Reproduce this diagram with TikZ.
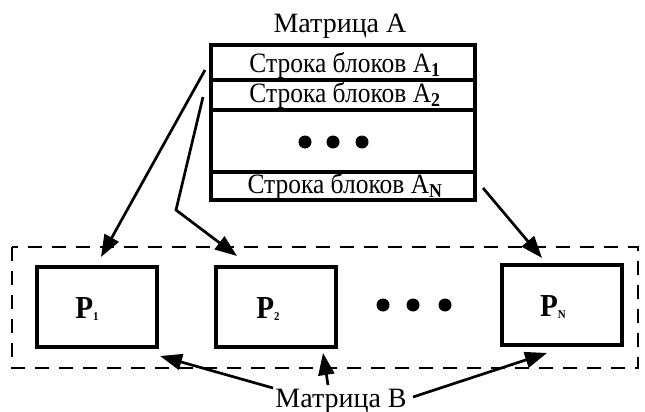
\documentclass[tikz,border=0pt]{standalone}
\usepackage{fontspec}
\setmainfont{Liberation Serif}
\usetikzlibrary{arrows.meta}
\newcommand{\narrowtxt}[1]{\scalebox{0.91}[1]{#1}}
\newcommand{\psub}[1]{\raisebox{-2pt}{\fontsize{12}{12}\selectfont\bfseries #1}}
\begin{document}
\begin{tikzpicture}[x=1pt,y=-1pt,
 rowbox/.style={draw,line width=3.3pt,minimum width=264pt,inner sep=0pt},
 rowtxt/.style={font=\fontsize{28}{30}\selectfont,inner sep=0pt,anchor=base},
 pbox/.style={draw,line width=3.3pt,minimum width=120pt,minimum height=80pt,inner sep=0pt},
 ptxt/.style={font=\fontsize{32}{34}\selectfont\bfseries,inner sep=0pt,anchor=base},
 lbl/.style={font=\fontsize{28}{30}\selectfont,inner sep=0pt,anchor=base},
 arr/.style={line width=2.7pt,-{Triangle[length=22pt,width=16pt]}},
 bigdot/.style={circle,fill,inner sep=0pt,minimum size=13pt},
 frame/.style={line width=2.5pt,dash pattern=on 14pt off 10pt}]
\useasboundingbox (0,0) rectangle (645,412);
% Matrix A
\node[lbl] (ma) at (340,33) {Матрица А};
\node[rowbox,minimum height=35pt] (r1) at (343,62.5) {};
\node[rowbox,minimum height=30pt] (r2) at (343,95) {};
\node[rowbox,minimum height=62pt] (rd) at (343,141) {};
\node[rowbox,minimum height=28pt] (rn) at (343,186) {};
\node[rowtxt] (t1txt) at (345,72) {\narrowtxt{Строка блоков А\textsubscript{\textbf{1}}}};
\node[rowtxt] (t2txt) at (345,102) {\narrowtxt{Строка блоков А\textsubscript{\textbf{2}}}};
\node[rowtxt] (tntxt) at (345,193) {\narrowtxt{Строка блоков А\textsubscript{\textbf{N}}}};
\node[bigdot] (ad1) at (305,142) {};
\node[bigdot] (ad2) at (333,142) {};
\node[bigdot] (ad3) at (362,142) {};
% Matrix B frame
\draw[frame] (12,247) rectangle (638,368);
\node[pbox] (p1) at (97,307) {};
\node[pbox] (p2) at (276,307) {};
\node[pbox] (pn) at (562,305) {};
\node[ptxt] (p1txt) at (87,318) {\narrowtxt{P\psub{1}}};
\node[ptxt] (p2txt) at (268,318) {\narrowtxt{P\psub{2}}};
\node[ptxt] (pntxt) at (553,316) {\narrowtxt{P\psub{N}}};
\node[bigdot] (bd1) at (383,305) {};
\node[bigdot] (bd2) at (413,305) {};
\node[bigdot] (bd3) at (445,305) {};
\node[lbl] (mb) at (341,407) {Матрица В};
% arrows
\coordinate (s1) at (205,70);
\coordinate (t1) at (101,257);
\coordinate (s2) at (203,97);
\coordinate (b2) at (176,210);
\coordinate (t2) at (237,256);
\coordinate (s3) at (483,188);
\coordinate (t3) at (542,258);
\coordinate (u1) at (273,388);
\coordinate (v1) at (160,356);
\coordinate (u2) at (328,385);
\coordinate (v2) at (323,353);
\coordinate (u3) at (413,397);
\coordinate (v3) at (547,353);
\draw[arr] (s1) -- (t1);
\draw[arr] (s2) -- (b2) -- (t2);
\draw[arr] (s3) -- (t3);
\draw[arr] (u1) -- (v1);
\draw[arr] (u2) -- (v2);
\draw[arr] (u3) -- (v3);
\end{tikzpicture}
\end{document}
